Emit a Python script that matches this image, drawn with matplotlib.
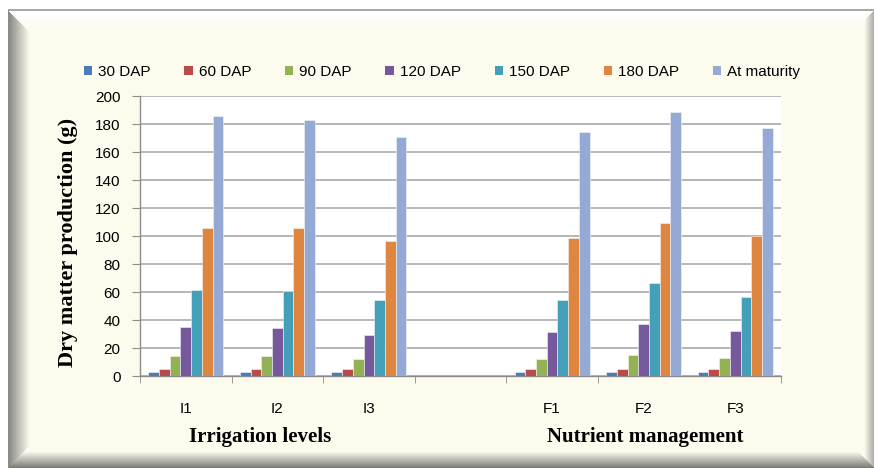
import numpy as np
import matplotlib
matplotlib.use("Agg")
import matplotlib.pyplot as plt

# ---- data ----
categories = ["I1", "I2", "I3", "", "F1", "F2", "F3"]
series_names = ["30 DAP", "60 DAP", "90 DAP", "120 DAP", "150 DAP", "180 DAP", "At maturity"]
dap30 = [3.1, 3.1, 3.1, np.nan, 3.1, 3.1, 3.1]
dap60 = [5.2, 5.2, 5.2, np.nan, 5.2, 5.2, 5.2]
dap90 = [14.3, 14.3, 12.4, np.nan, 12.4, 15.0, 13.1]
dap120 = [35.2, 34.3, 29.5, np.nan, 31.7, 37.1, 32.4]
dap150 = [61.7, 61.0, 54.5, np.nan, 54.5, 66.4, 56.2]
dap180 = [105.7, 105.7, 96.7, np.nan, 98.6, 109.5, 99.8]
maturity = [185.5, 182.6, 171.0, np.nan, 174.5, 188.3, 177.4]
series_values = [dap30, dap60, dap90, dap120, dap150, dap180, maturity]
colors = ["#4A7DB9", "#BB4B48", "#93B254", "#76599C", "#43A0B8", "#DE8540", "#94AAD4"]
y_ticks = [0, 20, 40, 60, 80, 100, 120, 140, 160, 180, 200]
group_labels = ["Irrigation levels", "Nutrient management"]

W, H = 874, 468
fig = plt.figure(figsize=(W / 100, H / 100), dpi=100)
fig.patch.set_facecolor("white")

# ---- background frame with bevel ----
cream = np.array([253, 250, 238]) / 255.0
img = np.ones((H, W, 3))
yy, xx = np.mgrid[0:H, 0:W]
inside = (xx >= 8) & (yy >= 10)
img[inside] = cream
# top white bevel
t = np.clip((yy - 11) / 18.0, 0, 1)
mask = inside & (yy < 30) & ((xx - 8) >= (yy - 10))
for c in range(3):
    img[..., c] = np.where(mask, (1 - t) * 1.0 + t * cream[c], img[..., c])
# left gray bevel
t = np.clip((xx - 9) / 20.0, 0, 1)
mask = inside & (xx < 30) & ((xx - 8) < (yy - 10)) & ((xx - 8) < (H - 1 - yy))
gray = np.array([140, 140, 135]) / 255.0
for c in range(3):
    img[..., c] = np.where(mask, (1 - t) * gray[c] + t * cream[c], img[..., c])
# bottom bevel
t = np.clip((H - 1 - yy) / 16.0, 0, 1)
mask = inside & (yy > H - 18) & ((H - 1 - yy) <= (xx - 8)) & ((H - 1 - yy) <= (W - 1 - xx))
gray2 = np.array([125, 125, 120]) / 255.0
for c in range(3):
    img[..., c] = np.where(mask, (1 - t) * gray2[c] + t * cream[c], img[..., c])
# right bevel
t = np.clip((W - 1 - xx) / 9.0, 0, 1)
mask = inside & (xx > W - 10) & ((W - 1 - xx) < (H - 1 - yy)) & ((W - 1 - xx) < (yy - 10) + 0)
gray3 = np.array([175, 175, 168]) / 255.0
for c in range(3):
    img[..., c] = np.where(mask, (1 - t) * gray3[c] + t * cream[c], img[..., c])
# top line
img[9:11, 8:, :] = np.array([168, 168, 160]) / 255.0
img[10:, 8:9, :] = np.array([140, 140, 135]) / 255.0

bg = fig.add_axes([0, 0, 1, 1], zorder=-10)
bg.imshow(img, extent=(0, W, H, 0), aspect="auto", interpolation="nearest")
bg.set_xlim(0, W)
bg.set_ylim(H, 0)
bg.axis("off")

# ---- main axes ----
left, right, top, bottom = 140, 781, 96, 376
ax = fig.add_axes([left / W, 1 - bottom / H, (right - left) / W, (bottom - top) / H])
ax.set_facecolor("white")

x = np.arange(len(categories))
n = len(series_values)
w = 0.82 / n
for i, (vals, name, col) in enumerate(zip(series_values, series_names, colors)):
    ax.bar(x + (i - (n - 1) / 2) * w, vals, width=w, color=col, edgecolor="#F4F4F4",
           linewidth=0.4, label=name, zorder=3)

ax.set_xlim(-0.5, len(categories) - 0.5)
ax.set_ylim(0, 200)
ax.set_yticks(y_ticks)
ax.grid(axis="y", color="#A3A3A3", linewidth=1.1, zorder=0)
ax.set_axisbelow(True)

ax.set_xticks(x)
ax.set_xticklabels(categories)
ax.set_xticks([-0.5, 0.5, 1.5, 2.5, 3.5, 4.5, 6.5], minor=True)
ax.tick_params(axis="x", which="major", length=0, pad=19, labelsize=11)
ax.tick_params(axis="x", which="minor", length=5, color="#8C8C8C", direction="out")
ax.tick_params(axis="y", length=6, color="#8C8C8C", pad=8, labelsize=11)
for lab in ax.get_xticklabels() + ax.get_yticklabels():
    lab.set_fontfamily(["Liberation Sans", "DejaVu Sans"])

for s in ["top", "right"]:
    ax.spines[s].set_visible(False)
for s in ["left", "bottom"]:
    ax.spines[s].set_color("#8C8C8C")
    ax.spines[s].set_linewidth(1.0)

leg = fig.legend(loc="center", bbox_to_anchor=(442 / W, 1 - 72 / H), ncol=7,
                 frameon=False, handlelength=0.55, handleheight=0.55,
                 handletextpad=0.4, columnspacing=2.2,
                 prop={"family": ["Liberation Sans", "DejaVu Sans"], "size": 11})
for p in leg.get_patches():
    p.set_edgecolor("none")

serif = ["Liberation Serif", "DejaVu Serif"]
fig.text(68 / W, 1 - 242 / H, "Dry matter production (g)", rotation=90, ha="center",
         va="center", fontsize=16, fontweight="bold", family=serif)
fig.text(260 / W, 1 - 437 / H, group_labels[0], ha="center", va="center",
         fontsize=15, fontweight="bold", family=serif)
fig.text(645 / W, 1 - 437 / H, group_labels[1], ha="center", va="center",
         fontsize=15, fontweight="bold", family=serif)

fig.savefig("out.png", dpi=100, facecolor=fig.get_facecolor())
